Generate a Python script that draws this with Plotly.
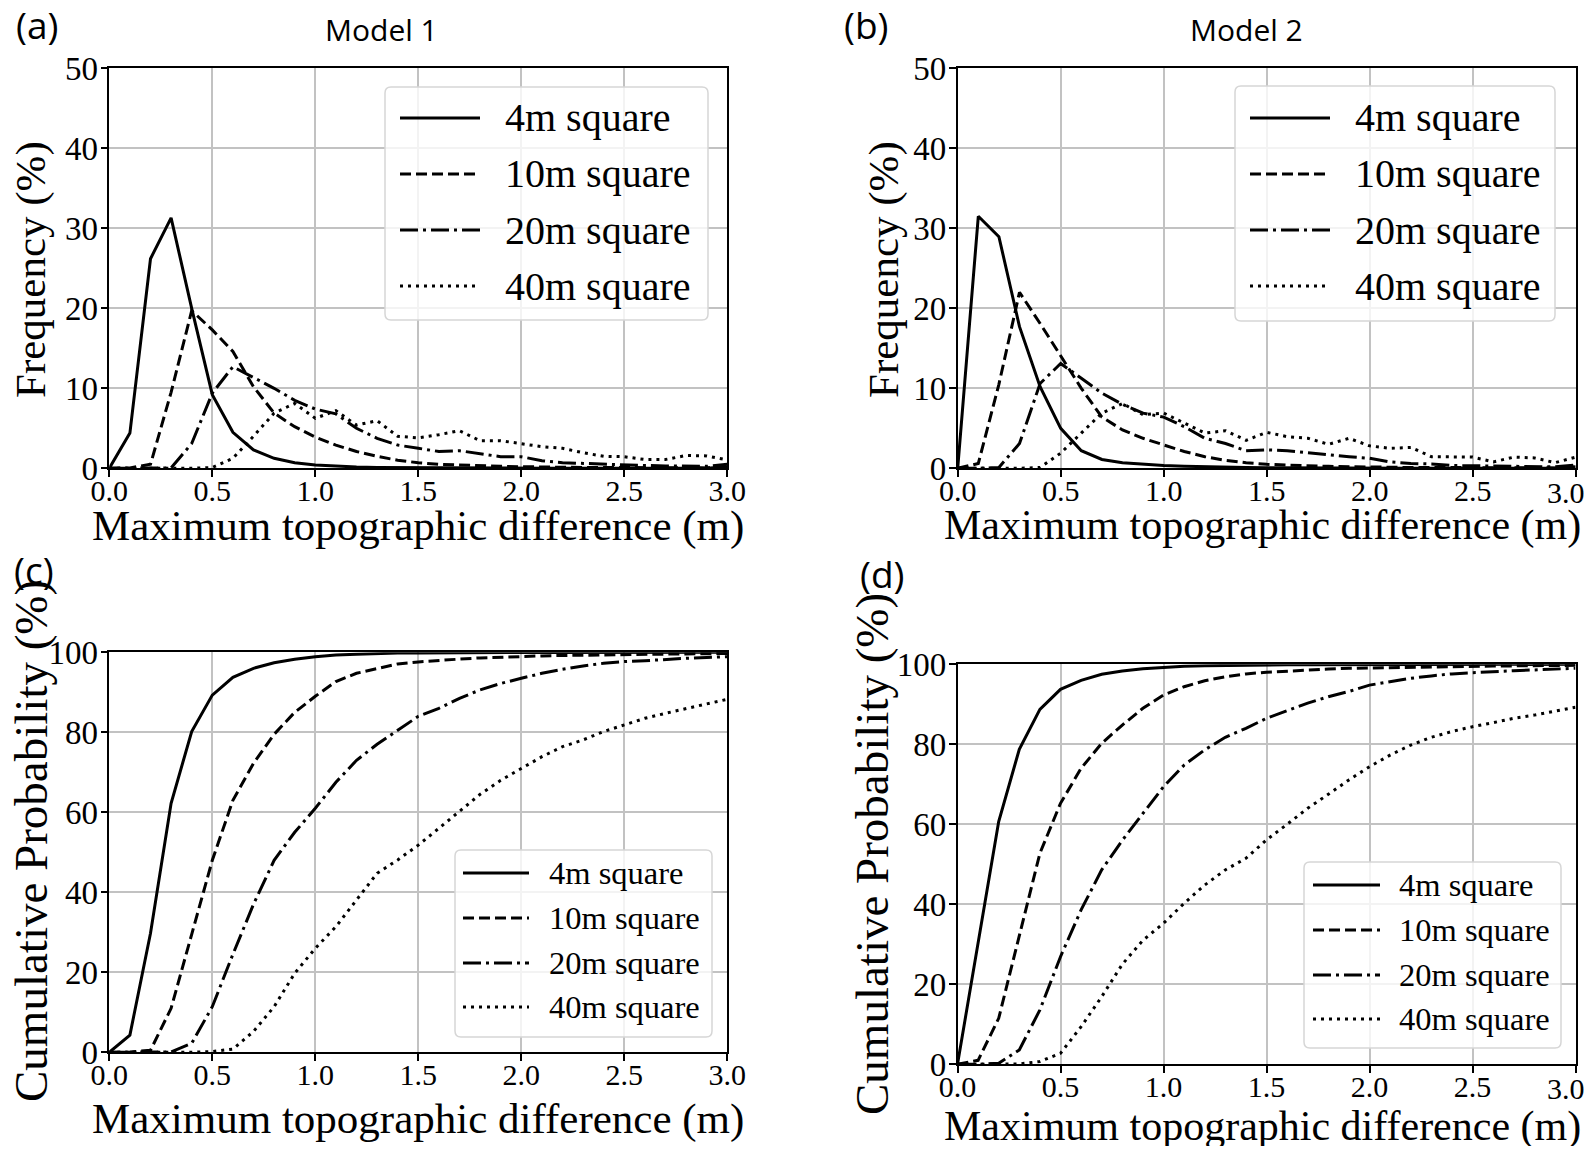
import plotly.graph_objects as go

# ---------------- data ----------------
x_vals = [0.0, 0.1, 0.2, 0.3, 0.4, 0.5, 0.6, 0.7, 0.8, 0.9, 1.0,
          1.1, 1.2, 1.3, 1.4, 1.5, 1.6, 1.7, 1.8, 1.9, 2.0,
          2.1, 2.2, 2.3, 2.4, 2.5, 2.6, 2.7, 2.8, 2.9, 3.0]

series_labels = ["4m square", "10m square", "20m square", "40m square"]
x_ticks = [0.0, 0.5, 1.0, 1.5, 2.0, 2.5, 3.0]
x_tick_text = ["0.0", "0.5", "1.0", "1.5", "2.0", "2.5", "3.0"]

# (a) Model 1 frequency (%)
freq1_4m = [0, 4.4, 26.2, 31.3, 20.0, 9.2, 4.5, 2.3, 1.25, 0.7, 0.4, 0.25, 0.15, 0.1, 0.08, 0.06,
            0.05, 0.04, 0.03, 0.03, 0.02, 0.02, 0.02, 0.01, 0.01, 0.01, 0.01, 0.01, 0.01, 0.01, 0.2]
freq1_10m = [0, 0.05, 0.5, 9.5, 19.7, 17.3, 14.6, 10.2, 6.9, 5.2, 3.9, 2.9, 2.1, 1.5, 1.0, 0.7,
             0.5, 0.4, 0.3, 0.25, 0.2, 0.15, 0.12, 0.1, 0.1, 0.08, 0.07, 0.06, 0.05, 0.05, 0.4]
freq1_20m = [0, 0, 0, 0.05, 3.1, 9.4, 12.7, 11.4, 10.0, 8.5, 7.4, 6.8, 5.0, 3.75, 2.9, 2.5,
             2.1, 2.2, 1.8, 1.45, 1.45, 0.95, 0.7, 0.6, 0.55, 0.4, 0.35, 0.3, 0.3, 0.25, 0.5]
freq1_40m = [0, 0, 0, 0, 0, 0.1, 1.25, 4.0, 6.9, 8.1, 6.25, 7.2, 5.4, 5.95, 4.0, 3.8,
             4.2, 4.7, 3.45, 3.45, 3.1, 2.7, 2.5, 1.95, 1.5, 1.45, 1.1, 1.1, 1.6, 1.55, 1.05]

# (b) Model 2 frequency (%)
freq2_4m = [0, 31.5, 28.95, 17.7, 10.2, 5.0, 2.2, 1.1, 0.7, 0.5, 0.35, 0.25, 0.18, 0.12, 0.1, 0.08,
            0.06, 0.05, 0.04, 0.03, 0.03, 0.02, 0.02, 0.02, 0.01, 0.01, 0.01, 0.01, 0.01, 0.01, 0.2]
freq2_10m = [0, 0.6, 10.5, 22.0, 18.1, 14.0, 10.0, 6.4, 4.8, 3.75, 2.9, 2.1, 1.45, 1.0, 0.7, 0.5,
             0.4, 0.3, 0.25, 0.2, 0.15, 0.12, 0.1, 0.1, 0.08, 0.07, 0.06, 0.05, 0.05, 0.05, 0.3]
freq2_20m = [0, 0, 0.1, 3.1, 10.6, 13.1, 11.25, 9.4, 8.0, 6.9, 6.4, 5.2, 3.75, 3.1, 2.2, 2.3,
             2.2, 1.95, 1.65, 1.45, 1.25, 0.8, 0.6, 0.55, 0.35, 0.3, 0.25, 0.22, 0.2, 0.18, 0.4]
freq2_40m = [0, 0, 0, 0, 0.1, 1.9, 4.4, 6.9, 8.1, 6.7, 6.9, 5.6, 4.4, 4.7, 3.5, 4.5,
             3.95, 3.75, 3.0, 3.75, 2.8, 2.5, 2.6, 1.45, 1.4, 1.4, 0.8, 1.4, 1.3, 0.7, 1.4]

# (c) Model 1 cumulative probability (%)
cum1_4m = [0, 4.3, 29.75, 62.25, 80.2, 89.3, 93.75, 96, 97.4, 98.25, 98.9, 99.3, 99.5, 99.7, 99.8, 99.85,
           99.9, 99.9, 99.92, 99.94, 99.95, 99.96, 99.97, 99.97, 99.98, 99.98, 99.98, 99.99, 99.99, 99.99, 100]
cum1_10m = [0, 0.05, 0.5, 11, 29.5, 48, 63, 72.25, 79.5, 85, 89, 92.7, 94.75, 96, 97.1, 97.6,
            98.0, 98.3, 98.6, 98.8, 99.0, 99.1, 99.2, 99.3, 99.4, 99.45, 99.5, 99.55, 99.6, 99.65, 99.7]
cum1_20m = [0, 0, 0, 0.1, 2.25, 11.4, 24.5, 37, 48, 55, 61, 67.5, 73, 77, 80.5, 84,
            86, 88.5, 90.6, 92.2, 93.5, 94.75, 95.75, 96.6, 97.25, 97.7, 97.9, 98.25, 98.5, 98.7, 98.9]
cum1_40m = [0, 0, 0, 0, 0, 0.2, 0.8, 5.2, 11.4, 19.75, 26, 31.4, 38.1, 44.75, 48.1, 51.8,
            56, 60.2, 64.5, 68, 71, 73.9, 76.4, 78.1, 80.2, 81.8, 83.5, 84.75, 86, 87.1, 88.25]

# (d) Model 2 cumulative probability (%)
cum2_4m = [0, 30.25, 60.7, 78.75, 88.75, 93.75, 96, 97.5, 98.3, 98.9, 99.25, 99.5, 99.65, 99.75, 99.8, 99.85,
           99.9, 99.9, 99.92, 99.94, 99.95, 99.96, 99.97, 99.97, 99.98, 99.98, 99.98, 99.99, 99.99, 99.99, 100]
cum2_10m = [0, 1, 11.5, 32, 52.75, 65.25, 74, 80.25, 84.8, 89, 92.3, 94.4, 95.9, 96.9, 97.6, 98.0,
            98.3, 98.6, 98.8, 99.0, 99.1, 99.2, 99.3, 99.4, 99.45, 99.5, 99.55, 99.6, 99.65, 99.7, 99.75]
cum2_20m = [0, 0, 0.25, 3.6, 13.6, 26.9, 38.6, 48.6, 56, 62.75, 69.4, 74.8, 78.6, 81.75, 84, 86.5,
            88.5, 90.3, 91.9, 93.2, 94.8, 95.7, 96.5, 97.1, 97.6, 97.9, 98.2, 98.4, 98.6, 98.8, 99.0]
cum2_40m = [0, 0, 0, 0.1, 0.7, 2.75, 9.4, 16.9, 25, 31, 35.25, 40.25, 44.8, 48.6, 51.5, 56.1,
            60, 64, 67.5, 71.1, 74.4, 77.3, 79.8, 81.75, 83.2, 84.4, 85.4, 86.5, 87.3, 88.2, 89.25]

panel_series = [
    [freq1_4m, freq1_10m, freq1_20m, freq1_40m],
    [freq2_4m, freq2_10m, freq2_20m, freq2_40m],
    [cum1_4m, cum1_10m, cum1_20m, cum1_40m],
    [cum2_4m, cum2_10m, cum2_20m, cum2_40m],
]
panel_letters = ["(a)", "(b)", "(c)", "(d)"]
model_titles = ["Model 1", "Model 2"]
x_title = "Maximum topographic difference (m)"
y_titles = ["Frequency (%)", "Frequency (%)", "Cumulative Probability (%)", "Cumulative Probability (%)"]

# ---------------- layout helpers (page pixels -> paper) ----------------
W, H, OFF = 1586, 1138, 8
RIGHT_LIMIT = 1586  # visible right edge of the page area


def px(x):
    return (x - OFF) / W


def py(y):
    return 1 - (y - OFF) / H


dashes = ["solid", "11px,5px", "18px,5px,3px,5px", "3px,5px"]
SERIF = "Liberation Serif"
SANS = "Open Sans"
XTICK_FS = 30

# panel geometry in page pixels: (left, right, top, bottom)
boxes = [(109.3, 727.3, 68.3, 468.3), (957.7, 1575.7, 68.3, 468.3),
         (109.3, 727.3, 652.3, 1052.3), (957.5, 1575.5, 664.3, 1064.3)]
y_ranges = [(0, 50, 10), (0, 50, 10), (0, 100, 20), (0, 100, 20)]

# legend geometry (page px): box (x0, y0, x1, y1), line x0, x1, text x, row ys, font size
legends = [
    dict(box=(385, 87, 708, 320), lx=(400, 480), tx=503, rows=(118, 174, 230, 286), fs=40),
    dict(box=(1235, 86, 1555, 321), lx=(1250, 1330), tx=1353, rows=(118, 174, 230, 286), fs=40),
    dict(box=(455, 850, 712, 1037), lx=(463, 529), tx=547, rows=(873, 918, 963, 1007), fs=32.5),
    dict(box=(1304, 862, 1561, 1048), lx=(1313, 1380), tx=1397, rows=(885, 930, 975, 1019), fs=32.5),
]


def rrect(x0, y0, x1, y1, r):
    P = lambda x, y: f"{px(x):.6f},{py(y):.6f}"
    return (f"M{P(x0 + r, y0)} L{P(x1 - r, y0)} Q{P(x1, y0)} {P(x1, y0 + r)} "
            f"L{P(x1, y1 - r)} Q{P(x1, y1)} {P(x1 - r, y1)} L{P(x0 + r, y1)} "
            f"Q{P(x0, y1)} {P(x0, y1 - r)} L{P(x0, y0 + r)} Q{P(x0, y0)} {P(x0 + r, y0)} Z")


fig = go.Figure()
layout = dict(width=W, height=H, margin=dict(l=0, r=0, t=0, b=0, autoexpand=False),
              paper_bgcolor="white", plot_bgcolor="white", showlegend=False)

annotations = []
shapes = []
for i in range(4):
    sfx = "" if i == 0 else str(i + 1)
    l, r, t, b = boxes[i]
    right_panel = i in (1, 3)
    for s in range(4):
        fig.add_trace(go.Scatter(
            x=x_vals, y=panel_series[i][s], mode="lines", name=series_labels[s],
            line=dict(color="black", width=3, dash=dashes[s]),
            xaxis="x" + sfx, yaxis="y" + sfx, showlegend=False))
    ax_common = dict(showline=True, mirror=True, linecolor="black", linewidth=1.5,
                     ticks="outside", ticklen=7, tickwidth=1.5, tickcolor="black",
                     showgrid=True, gridcolor="#c2c2c2", gridwidth=1.5, zeroline=False,
                     automargin=False, ticklabeloverflow="allow")
    # on the right-hand panels the last label would run past the page edge,
    # so it is written as a right-aligned text just inside the edge
    ttext = x_tick_text[:-1] + [""] if right_panel else x_tick_text
    layout["xaxis" + sfx] = dict(domain=[px(l), px(r)], anchor="y" + sfx, range=[0, 3],
                                 tickvals=x_ticks, ticktext=ttext, ticklabelstandoff=-12,
                                 tickfont=dict(family=SERIF, size=XTICK_FS, color="black"),
                                 **ax_common)
    if right_panel:
        annotations.append(dict(x=px(RIGHT_LIMIT), y=py(b + 24), xref="paper", yref="paper",
                                text=x_tick_text[-1], showarrow=False, xanchor="right",
                                yanchor="middle", borderpad=0,
                                font=dict(family=SERIF, size=XTICK_FS, color="black")))
    y0, y1, dt = y_ranges[i]
    layout["yaxis" + sfx] = dict(domain=[py(b), py(t)], anchor="x" + sfx, range=[y0, y1],
                                 dtick=dt, tick0=0, ticklabelstandoff=-4,
                                 tickfont=dict(family=SERIF, size=33, color="black"), **ax_common)

    # hand-drawn legend (matplotlib style)
    lg = legends[i]
    bx0, by0, bx1, by1 = lg["box"]
    shapes.append(dict(type="path", xref="paper", yref="paper", layer="above",
                       path=rrect(bx0, by0, bx1, by1, 6),
                       fillcolor="rgba(255,255,255,0.8)", line=dict(color="#d6d6d6", width=1.5)))
    for s in range(4):
        yy = lg["rows"][s]
        shapes.append(dict(type="line", xref="paper", yref="paper", layer="above",
                           x0=px(lg["lx"][0]), x1=px(lg["lx"][1]), y0=py(yy), y1=py(yy),
                           line=dict(color="black", width=3, dash=dashes[s])))
        annotations.append(dict(x=px(lg["tx"]), y=py(yy), xref="paper", yref="paper",
                                text=series_labels[s], showarrow=False, xanchor="left",
                                yanchor="middle",
                                font=dict(family=SERIF, size=lg["fs"], color="black")))

# panel letters
for (lx, ly), txt in zip([(37, 25), (866, 25), (34, 569), (882, 573)], panel_letters):
    annotations.append(dict(x=px(lx), y=py(ly), xref="paper", yref="paper", text=txt,
                            showarrow=False, xanchor="center", yanchor="middle",
                            font=dict(family=SANS, size=37, color="black")))
# model titles
for (lx, ly), txt in zip([(381, 30), (1246, 30)], model_titles):
    annotations.append(dict(x=px(lx), y=py(ly), xref="paper", yref="paper", text=txt,
                            showarrow=False, xanchor="center", yanchor="middle",
                            font=dict(family=SANS, size=30, color="black")))
# x axis titles
for (lx, ly), fs in zip([(418, 526), (1262, 526), (418, 1119), (1262, 1126)], [43, 42, 43, 42]):
    annotations.append(dict(x=px(lx), y=py(ly), xref="paper", yref="paper", text=x_title,
                            showarrow=False, xanchor="center", yanchor="middle",
                            font=dict(family=SERIF, size=fs, color="black")))
# y axis titles
for (lx, ly), txt, fs in zip([(31, 270), (884, 270), (31, 841), (872, 854)], y_titles,
                             [43, 43, 47, 47]):
    annotations.append(dict(x=px(lx), y=py(ly), xref="paper", yref="paper", text=txt,
                            showarrow=False, xanchor="center", yanchor="middle", textangle=-90,
                            font=dict(family=SERIF, size=fs, color="black")))

layout["annotations"] = annotations
layout["shapes"] = shapes
fig.update_layout(**layout)
fig.write_html("out.html")
